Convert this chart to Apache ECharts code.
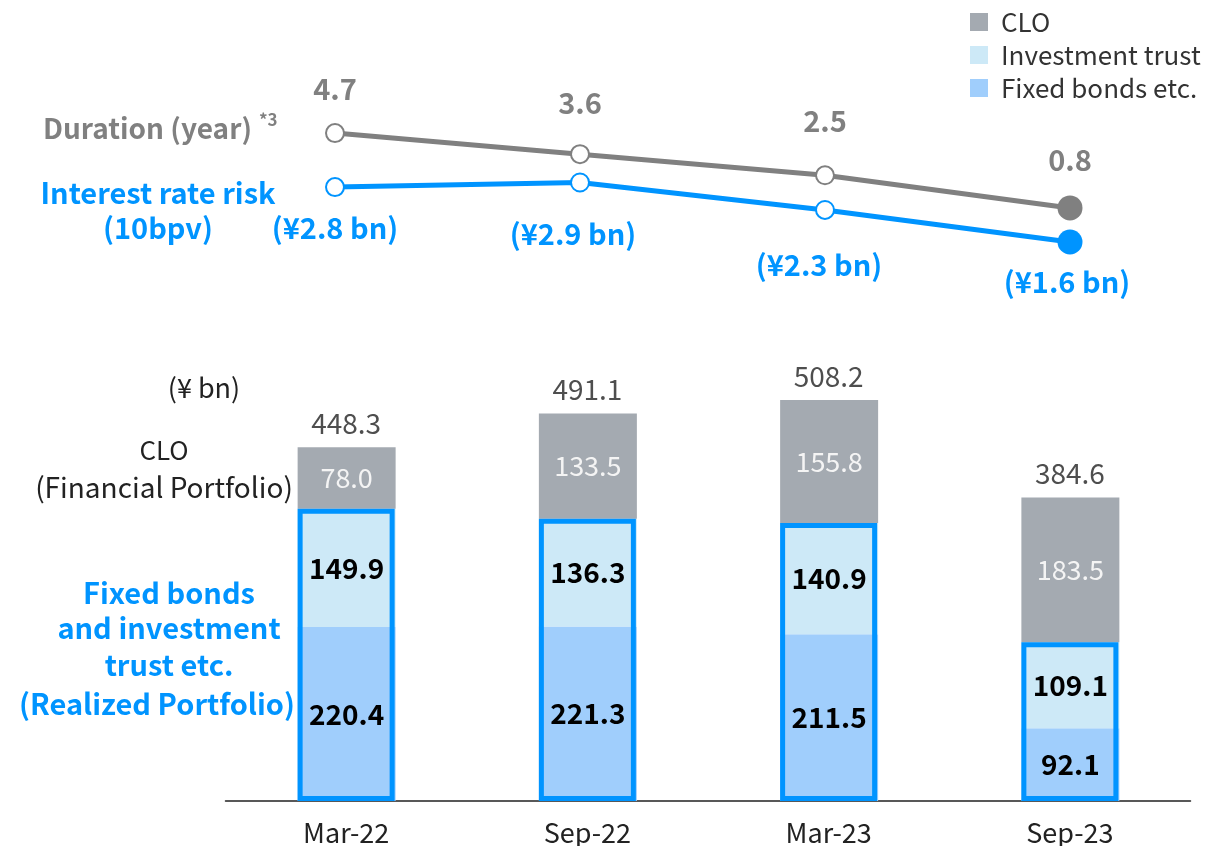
<!DOCTYPE html>
<html>
<head>
<meta charset="utf-8">
<script src="https://cdn.jsdelivr.net/npm/echarts@6/dist/echarts.min.js"></script>
<style>
  html, body { margin: 0; padding: 0; background: #fff; }
  #chart { width: 1230px; height: 846px; }
</style>
</head>
<body>
<div id="chart"></div>
<script>
// Portfolio breakdown (¥ bn) by period
const categories = ['Mar-22', 'Sep-22', 'Mar-23', 'Sep-23'];
const cloValues = [78.0, 133.5, 155.8, 183.5];
const investmentTrust = [149.9, 136.3, 140.9, 109.1];
const fixedBonds = [220.4, 221.3, 211.5, 92.1];
const totals = [448.3, 491.1, 508.2, 384.6];

// Risk indicators
const durationYears = [4.7, 3.6, 2.5, 0.8];
const rateRiskBn = [2.8, 2.9, 2.3, 1.6];

const FONT = '"Noto Sans CJK JP", "Noto Sans", sans-serif';
const GRAY_LINE = '#808080';
const BLUE = '#0094ff';
const CLO_COLOR = '#a4aab1';
const TRUST_COLOR = '#cde9f7';
const FIXED_COLOR = '#a0cefc';

// realized portfolio = fixed bonds + investment trust (outlined in blue)
const realized = fixedBonds.map((v, i) => +(v + investmentTrust[i]).toFixed(1));

// label spacing for the two risk lines
const durLabelDist = [20, 27, 30, 21];
const riskLabelDist = [16, 27, 31, 13];
const riskLabelShift = [0, -7, -6, -3];

function lineItems(values, color, dist, shift) {
  const last = values.length - 1;
  return values.map((v, i) => ({
    value: v,
    symbolSize: i === last ? 25 : 18,
    itemStyle: i === last
      ? { color: color, borderColor: color, borderWidth: 0 }
      : { color: '#fff', borderColor: color, borderWidth: 2 },
    label: {
      distance: dist[i],
      offset: [shift ? shift[i] : 0, 0]
    }
  }));
}

const chart = echarts.init(document.getElementById('chart'));

const barGrid = { left: 225.5, right: 39.5, top: 327.6, bottom: 45 };
const lineLeft = 212.5, lineRight = 37.5;

const numFmt = p => p.value.toFixed(1);

const option = {
  animation: false,
  textStyle: { fontFamily: FONT },
  legend: {
    orient: 'vertical',
    left: 970,
    top: 9,
    padding: 0,
    itemWidth: 18,
    itemHeight: 18,
    itemGap: 7,
    icon: 'rect',
    data: ['CLO', 'Investment trust', 'Fixed bonds etc.'],
    textStyle: { fontSize: 26, color: '#333', fontFamily: FONT, padding: [0, 0, 0, 8] }
  },
  grid: [
    barGrid,
    { left: lineLeft, right: lineRight, top: 108.1, bottom: 622.7 },
    { left: lineLeft, right: lineRight, top: 132.1, bottom: 530.7 }
  ],
  xAxis: [
    {
      type: 'category', gridIndex: 0, data: categories,
      axisLine: { lineStyle: { color: '#222', width: 1.5 } },
      axisTick: { show: false },
      axisLabel: { fontSize: 27, color: '#222', margin: 18, fontFamily: FONT }
    },
    { type: 'category', gridIndex: 1, data: categories, show: false },
    { type: 'category', gridIndex: 2, data: categories, show: false }
  ],
  yAxis: [
    { type: 'value', gridIndex: 0, min: 0, max: 600, show: false },
    { type: 'value', gridIndex: 1, min: 0, max: 6, show: false },
    { type: 'value', gridIndex: 2, min: 0, max: 4, show: false }
  ],
  series: [
    {
      name: 'Fixed bonds etc.', type: 'bar', stack: 'p', barWidth: 98,
      data: fixedBonds, itemStyle: { color: FIXED_COLOR },
      label: {
        show: true, position: 'inside', fontSize: 28, fontWeight: 'bold', color: '#000',
        fontFamily: FONT, formatter: numFmt
      }
    },
    {
      name: 'Investment trust', type: 'bar', stack: 'p', barWidth: 98,
      data: investmentTrust, itemStyle: { color: TRUST_COLOR },
      label: {
        show: true, position: 'inside', fontSize: 28, fontWeight: 'bold', color: '#000',
        fontFamily: FONT, formatter: numFmt
      }
    },
    {
      name: 'CLO', type: 'bar', stack: 'p', barWidth: 98,
      data: cloValues, itemStyle: { color: CLO_COLOR },
      label: {
        show: true, position: 'inside', fontSize: 27, color: '#f4f4f4',
        fontFamily: FONT, formatter: numFmt
      }
    },
    {
      name: 'Realized', type: 'bar', barWidth: 97, barGap: '-100%', z: 5,
      data: realized,
      itemStyle: { color: 'rgba(0,0,0,0)', borderColor: BLUE, borderWidth: 5 },
      emphasis: { disabled: true }
    },
    {
      name: 'Total', type: 'scatter', symbolSize: 0, data: totals,
      label: {
        show: true, position: 'top', distance: 10, fontSize: 28, color: '#222',
        fontFamily: FONT, formatter: numFmt
      }
    },
    {
      name: 'Duration', type: 'line', xAxisIndex: 1, yAxisIndex: 1,
      symbol: 'circle', z: 6,
      lineStyle: { color: GRAY_LINE, width: 5 },
      data: lineItems(durationYears, GRAY_LINE, durLabelDist),
      label: {
        show: true, position: 'top', fontSize: 29, fontWeight: 'bold', color: GRAY_LINE,
        fontFamily: FONT, formatter: numFmt
      }
    },
    {
      name: 'Interest rate risk', type: 'line', xAxisIndex: 2, yAxisIndex: 2,
      symbol: 'circle', z: 6,
      lineStyle: { color: BLUE, width: 5 },
      data: lineItems(rateRiskBn, BLUE, riskLabelDist, riskLabelShift),
      label: {
        show: true, position: 'bottom', fontSize: 29, fontWeight: 'bold', color: BLUE,
        fontFamily: FONT, formatter: p => '(¥' + p.value.toFixed(1) + ' bn)'
      }
    }
  ],
  graphic: [
    { type: 'text', x: 43, y: 128, style: { text: 'Duration (year)', font: 'bold 28px ' + FONT, fill: GRAY_LINE, verticalAlign: 'middle' } },
    { type: 'text', x: 259, y: 120, style: { text: '*3', font: 'bold 17px ' + FONT, fill: GRAY_LINE, verticalAlign: 'middle' } },
    { type: 'text', x: 158, y: 193, style: { text: 'Interest rate risk', font: 'bold 29px ' + FONT, fill: BLUE, align: 'center', verticalAlign: 'middle' } },
    { type: 'text', x: 158, y: 228, style: { text: '(10bpv)', font: 'bold 29px ' + FONT, fill: BLUE, align: 'center', verticalAlign: 'middle' } },
    { type: 'text', x: 204, y: 388, style: { text: '(¥ bn)', font: '27px ' + FONT, fill: '#222', align: 'center', verticalAlign: 'middle' } },
    { type: 'text', x: 164, y: 450, style: { text: 'CLO', font: '26px ' + FONT, fill: '#222', align: 'center', verticalAlign: 'middle' } },
    { type: 'text', x: 164, y: 487, style: { text: '(Financial Portfolio)', font: '28px ' + FONT, fill: '#222', align: 'center', verticalAlign: 'middle' } },
    { type: 'text', x: 169, y: 593, style: { text: 'Fixed bonds', font: 'bold 29px ' + FONT, fill: BLUE, align: 'center', verticalAlign: 'middle' } },
    { type: 'text', x: 169, y: 628, style: { text: 'and investment', font: 'bold 29px ' + FONT, fill: BLUE, align: 'center', verticalAlign: 'middle' } },
    { type: 'text', x: 169, y: 665, style: { text: 'trust etc.', font: 'bold 29px ' + FONT, fill: BLUE, align: 'center', verticalAlign: 'middle' } },
    { type: 'text', x: 157, y: 704, style: { text: '(Realized Portfolio)', font: 'bold 29px ' + FONT, fill: BLUE, align: 'center', verticalAlign: 'middle' } }
  ]
};

chart.setOption(option);
</script>
</body>
</html>
